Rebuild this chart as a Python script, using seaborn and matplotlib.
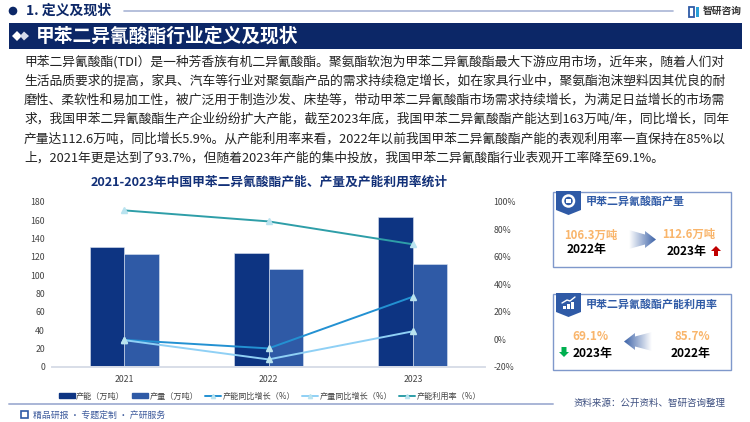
import numpy as np
import pandas as pd
import matplotlib
matplotlib.use("Agg")
import matplotlib.pyplot as plt
from matplotlib.colors import LinearSegmentedColormap
from matplotlib.lines import Line2D
from matplotlib.patches import Circle, Patch, Polygon, Rectangle
import seaborn as sns

# Chart data
years = ["2021", "2022", "2023"]
capacity = [131, 124, 163]
output = [123, 106.3, 112.6]
capacity_growth = [-0.3, -6.5, 31]
output_growth = [-0.5, -14.5, 5.9]
utilization = [93.7, 85.7, 69.1]
left_ticks = list(range(0, 181, 20))
right_ticks = list(range(-20, 101, 20))

# Page text
section_title = "1. 定义及现状"
banner_title = "甲苯二异氰酸酯行业定义及现状"
chart_title = "2021-2023年中国甲苯二异氰酸酯产能、产量及产能利用率统计"
body_lines = [
    "甲苯二异氰酸酯(TDI）是一种芳香族有机二异氰酸酯。聚氨酯软泡为甲苯二异氰酸酯最大下游应用市场，近年来，随着人们对",
    "生活品质要求的提高，家具、汽车等行业对聚氨酯产品的需求持续稳定增长，如在家具行业中，聚氨酯泡沫塑料因其优良的耐",
    "磨性、柔软性和易加工性，被广泛用于制造沙发、床垫等，带动甲苯二异氰酸酯市场需求持续增长，为满足日益增长的市场需",
    "求，我国甲苯二异氰酸酯生产企业纷纷扩大产能，截至2023年底，我国甲苯二异氰酸酯产能达到163万吨/年，同比增长，同年",
    "产量达112.6万吨，同比增长5.9%。从产能利用率来看，2022年以前我国甲苯二异氰酸酯产能的表观利用率一直保持在85%以",
    "上，2021年更是达到了93.7%，但随着2023年产能的集中投放，我国甲苯二异氰酸酯行业表观开工率降至69.1%。",
]

sns.set_theme(style="white")
plt.rcParams["font.family"] = ["Noto Sans CJK SC", "DejaVu Sans"]

NAVY = "#0D3482"
BLUE = "#2F5AA6"
RULE = "#A9B5D6"
ORANGE = "#F9B56B"

fig = plt.figure(figsize=(7.5, 4.22), dpi=100, facecolor="white")

# Background layer, in pixels
bg = fig.add_axes([0, 0, 1, 1], zorder=0)
bg.set_xlim(0, 750)
bg.set_ylim(422, 0)
bg.axis("off")

bg.add_patch(Circle((13, 11), 3.6, color="#0C2767"))
bg.text(26, 11, section_title, fontsize=10, fontweight="bold", color="#0C2767", va="center")
bg.plot([124, 673], [11, 11], color=RULE, lw=1.2)
bg.add_patch(Rectangle((9, 23), 733, 26, color="#0C2767", lw=0))
bg.add_patch(Polygon([(12, 36), (17, 31), (22, 36), (17, 41)], color="white", lw=0))
bg.add_patch(Polygon([(20, 36), (24, 31.5), (29, 36), (24, 40.5)], color="#D5DCEB", lw=0))
bg.text(36, 36, banner_title, fontsize=13.5, fontweight="bold", color="white", va="center")

# Logo top right
bg.add_patch(Rectangle((689, 7), 5, 10, fill=False, ec="#2F5AA6", lw=1.3))
bg.add_patch(Rectangle((696, 7), 3, 10, color="#29A0D8", lw=0))
bg.text(703, 11, "智研咨询", fontsize=7, fontweight="bold", color="#333333", va="center")

for i, line in enumerate(body_lines):
    bg.text(24, 62 + i * 19.2, line, fontsize=9.2, color="#222222", va="center")

bg.text(269, 182, chart_title, fontsize=9.15, fontweight="bold", color="#123078",
        ha="center", va="center")

# Footer
bg.plot([9, 553], [404, 404], color=RULE, lw=1.4)
bg.add_patch(Rectangle((21, 411), 7, 7, fill=False, ec="#2F5AA6", lw=1.2))
bg.text(33, 415, "精品研报 · 专题定制 · 产研服务", fontsize=6.4, color="#3D5A9C", va="center")
bg.text(574, 403, "资料来源：公开资料、智研咨询整理", fontsize=6.8, color="#3D4F80", va="center")

# Side panels
arrow_cmap = LinearSegmentedColormap.from_list("arrow", ["#FFFFFF", "#3D63A8"])


def gradient_arrow(x0, x1, y, flip):
    # arrow polygon filled with a fading gradient
    h = 9.5
    tip = 11
    if flip:
        pts = [(x1, y - h), (x0 + tip, y - 5), (x0 + tip, y - h + 1), (x0, y),
               (x0 + tip, y + h - 1), (x0 + tip, y + 5), (x1, y + h)]
        grad = np.linspace(1, 0, 64).reshape(1, -1)
    else:
        pts = [(x0, y - h), (x1 - tip, y - 5), (x1 - tip, y - h + 1), (x1, y),
               (x1 - tip, y + h - 1), (x1 - tip, y + 5), (x0, y + h)]
        grad = np.linspace(0, 1, 64).reshape(1, -1)
    im = bg.imshow(grad, extent=(x0, x1, y + h, y - h), cmap=arrow_cmap, aspect="auto")
    poly = Polygon(pts, transform=bg.transData, fc="none", ec="none")
    bg.add_patch(poly)
    im.set_clip_path(poly)


def panel(y0, y1, title, title_y):
    bg.add_patch(Rectangle((553, y0), 178, y1 - y0, fill=False, ec="#7F98CB", lw=1))
    bg.add_patch(Polygon([(556, y0 - 1), (581, y0 - 1), (581, y0 + 18), (568.5, y0 + 23), (556, y0 + 18)],
                         color="#2F5AA6", lw=0))
    bg.text(586, title_y, title, fontsize=7.9, fontweight="bold", color="#2F5AA6", va="center")


panel(192, 267, "甲苯二异氰酸酯产量", 202)
panel(294, 370, "甲苯二异氰酸酯产能利用率", 304)

# panel icons
bg.add_patch(Circle((568.5, 201), 5.5, fc="none", ec="white", lw=1.8))
bg.add_patch(Rectangle((566, 199), 5, 4, color="white", lw=0))
for k, bar_h in enumerate([3, 5, 7]):
    bg.add_patch(Rectangle((563 + k * 4, 309 - bar_h), 2.5, bar_h, color="white", lw=0))
bg.plot([562, 567, 570, 575], [303, 300, 301, 297], color="white", lw=1)

bg.text(591, 235, "106.3万吨", fontsize=8.2, fontweight="bold", color=ORANGE, ha="center", va="center")
bg.text(587, 250, "2022年", fontsize=8.6, fontweight="bold", color="black", ha="center", va="center")
bg.text(689, 234, "112.6万吨", fontsize=8.2, fontweight="bold", color=ORANGE, ha="center", va="center")
bg.text(687, 251, "2023年", fontsize=8.6, fontweight="bold", color="black", ha="center", va="center")
bg.text(590, 336, "69.1%", fontsize=8.4, fontweight="bold", color=ORANGE, ha="center", va="center")
bg.text(593, 353, "2023年", fontsize=8.6, fontweight="bold", color="black", ha="center", va="center")
bg.text(692, 336, "85.7%", fontsize=8.4, fontweight="bold", color=ORANGE, ha="center", va="center")
bg.text(691, 353, "2022年", fontsize=8.6, fontweight="bold", color="black", ha="center", va="center")

gradient_arrow(629, 656, 239.5, False)
gradient_arrow(624, 652, 341.5, True)
bg.add_patch(Polygon([(711, 251), (716, 246), (721, 251), (718, 251), (718, 256), (714, 256), (714, 251)],
                     color="#C00000", lw=0))
bg.add_patch(Polygon([(559, 352), (564, 357), (569, 352), (566.5, 352), (566.5, 347), (561.5, 347), (561.5, 352)],
                     color="#00B050", lw=0))
bg.set_xlim(0, 750)
bg.set_ylim(422, 0)

# Combo chart
ax = fig.add_axes([52 / 750, 1 - 367 / 422, 433 / 750, 165.3 / 422], zorder=1)
ax.patch.set_alpha(0)

bars = pd.DataFrame({
    "year": years * 2,
    "value": capacity + output,
    "series": ["产能（万吨）"] * 3 + ["产量（万吨）"] * 3,
})
sns.barplot(data=bars, x="year", y="value", hue="series", palette=[NAVY, BLUE],
            width=0.48, gap=0, saturation=1, edgecolor="#DCE4F2", linewidth=0.4, ax=ax, legend=False)

ax2 = ax.twinx()
line_names = ["产能同比增长（%）", "产量同比增长（%）", "产能利用率（%）"]
line_colors = ["#2391D2", "#8FD0F5", "#2E9EA8"]
lines = pd.DataFrame({
    "year": years * 3,
    "value": capacity_growth + output_growth + utilization,
    "series": [n for n in line_names for _ in years],
})
sns.pointplot(data=lines, x="year", y="value", hue="series", palette=line_colors,
              markers="^", markersize=4.2, linewidth=1.4, dodge=False, errorbar=None,
              ax=ax2, legend=False)
# lighter marker fill, line colour stays
for ln in ax2.get_lines():
    ln.set_markerfacecolor("#B9E3EF")
    ln.set_markeredgecolor("#B9E3EF")

ax.set_xlim(-0.5, 2.5)
ax.set_ylim(0, 180)
ax2.set_ylim(-20, 100)
ax.set_yticks(left_ticks)
ax2.set_yticks(right_ticks)
ax2.set_yticklabels([f"{t}%" for t in right_ticks])
ax.set_xlabel("")
ax.set_ylabel("")
ax2.set_xlabel("")
ax2.set_ylabel("")
ax2.grid(False)

for a in (ax, ax2):
    for side in ("top", "left", "right"):
        a.spines[side].set_visible(False)
    a.spines["bottom"].set_color("#D9DEE8")
    a.tick_params(axis="both", length=0, labelsize=6.3, labelcolor="#444444", pad=5)

ax2.tick_params(axis="y", pad=6)
ax.tick_params(axis="x", pad=6)

handles = [
    Patch(color=NAVY, label="产能（万吨）"),
    Patch(color=BLUE, label="产量（万吨）"),
] + [
    Line2D([], [], color=c, lw=1.4, marker="^", markersize=3, markerfacecolor="#B9E3EF",
           markeredgecolor="#B9E3EF", label=n)
    for c, n in zip(line_colors, line_names)
]
fig.legend(handles=handles, loc="center", bbox_to_anchor=(270 / 750, 1 - 396 / 422), ncol=5,
           frameon=False, fontsize=5.85, labelcolor="#444444", columnspacing=0.9,
           handlelength=1.9, handletextpad=0.2, borderpad=0, handleheight=0.5)

plt.savefig("out.png", dpi=100)
plt.close()
